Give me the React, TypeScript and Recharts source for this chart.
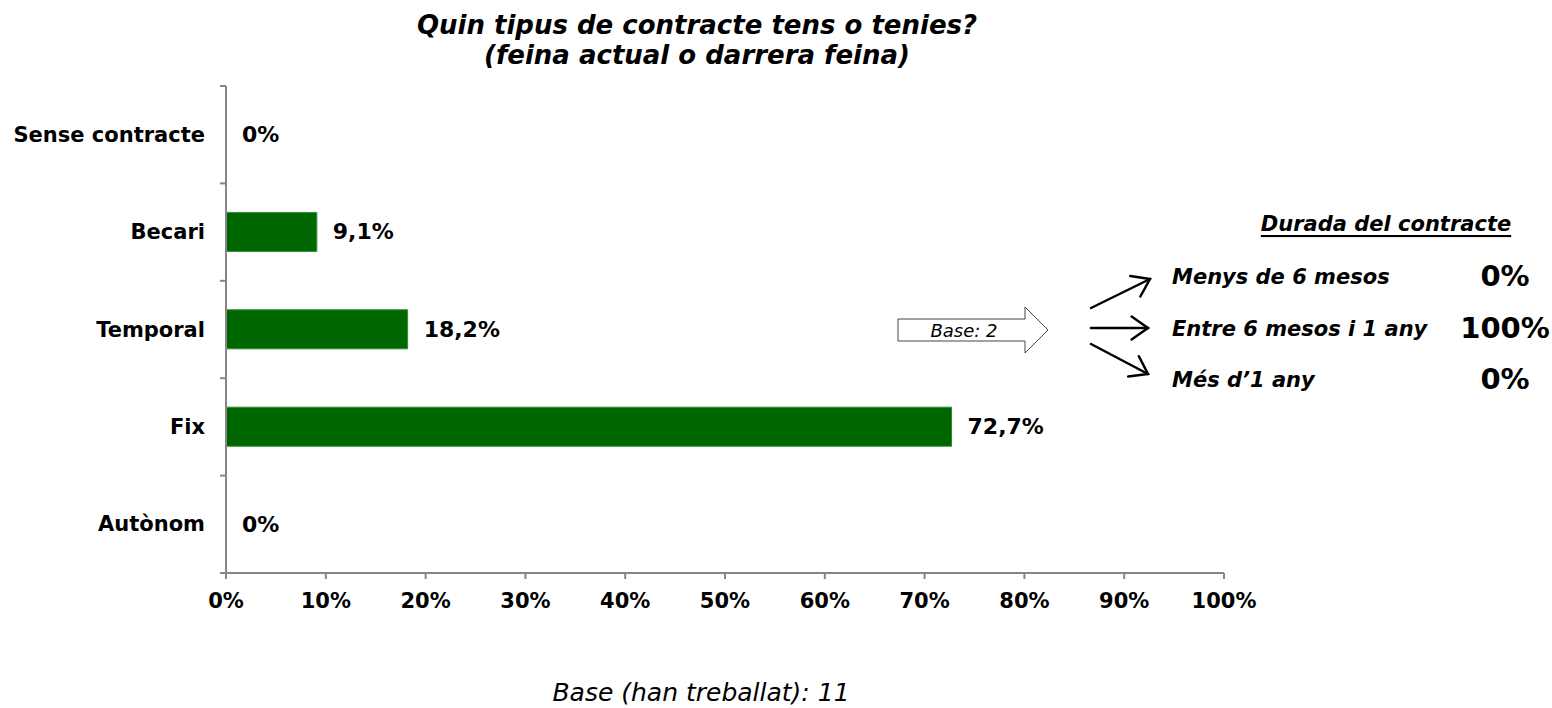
import React from "react";
import { BarChart, Bar, XAxis, YAxis, LabelList, Cell } from "recharts";

const categories = ["Sense contracte", "Becari", "Temporal", "Fix", "Autònom"];
const values = [0, 9.1, 18.2, 72.7, 0];
const xTicks = [0, 10, 20, 30, 40, 50, 60, 70, 80, 90, 100];

const durationLabels = ["Menys de 6 mesos", "Entre 6 mesos i 1 any", "Més d’1 any"];
const durationValues = ["0%", "100%", "0%"];

const data = categories.map((c, i) => ({ name: c, value: values[i] }));

const FONT = "'DejaVu Sans', Verdana, sans-serif";
const W = 1552;
const H = 708;
const TOP = 86;
const BOTTOM = 573;
const LEFT = 226;
const RIGHT = 1224;
const XAXIS_H = 60;
const BAND = (BOTTOM - TOP) / categories.length;
const AXIS = "#868686";

const fmt = (v: number) => (v === 0 ? "0%" : v.toFixed(1).replace(".", ",") + "%");

const YTick = (props: any) => {
  const { y, payload, index } = props;
  return (
    <g>
      <text
        x={LEFT - 21}
        y={y}
        textAnchor="end"
        dominantBaseline="central"
        fontFamily={FONT}
        fontWeight="bold"
        fontSize={21}
        fill="#000"
      >
        {payload.value}
      </text>
      <line x1={LEFT - 6} x2={LEFT} y1={y - BAND / 2} y2={y - BAND / 2} stroke={AXIS} strokeWidth={2} />
      {index === categories.length - 1 && (
        <line x1={LEFT - 6} x2={LEFT} y1={y + BAND / 2} y2={y + BAND / 2} stroke={AXIS} strokeWidth={2} />
      )}
    </g>
  );
};

const ValueLabel = (props: any) => {
  const { x, y, height, value } = props;
  const v = Number(value);
  const w = v === 0 ? 0 : Number(props.width || 0);
  return (
    <text
      x={Number(x) + w + 16}
      y={Number(y) + Number(height) / 2}
      dominantBaseline="central"
      fontFamily={FONT}
      fontWeight="bold"
      fontSize={22}
      fill="#000"
    >
      {fmt(v)}
    </text>
  );
};

const Arrow = ({ x1, y1, x2, y2 }: { x1: number; y1: number; x2: number; y2: number }) => {
  const a = Math.atan2(y2 - y1, x2 - x1);
  const L = 20;
  const s = (35 * Math.PI) / 180;
  const p1 = [x2 - L * Math.cos(a - s), y2 - L * Math.sin(a - s)];
  const p2 = [x2 - L * Math.cos(a + s), y2 - L * Math.sin(a + s)];
  return (
    <g stroke="#000" strokeWidth={2.5} fill="none" strokeLinecap="round">
      <line x1={x1} y1={y1} x2={x2} y2={y2} />
      <polyline points={`${p1[0]},${p1[1]} ${x2},${y2} ${p2[0]},${p2[1]}`} />
    </g>
  );
};

export default function App() {
  const rowY = [277, 329, 380];
  return (
    <div style={{ position: "absolute", left: 0, top: 0, width: W, height: H, background: "#fff" }}>
      <BarChart
        width={W}
        height={H}
        data={data}
        layout="vertical"
        margin={{ top: TOP, bottom: H - BOTTOM - XAXIS_H, left: 8, right: W - RIGHT }}
      >
        <XAxis
          type="number"
          domain={[0, 100]}
          ticks={xTicks}
          tickFormatter={(v: number) => v + "%"}
          stroke={AXIS}
          axisLine={{ stroke: AXIS, strokeWidth: 2 }}
          tickLine={{ stroke: AXIS, strokeWidth: 2 }}
          tickSize={6}
          tickMargin={14}
          tick={{ fill: "#000", fontFamily: FONT, fontWeight: "bold", fontSize: 21 }}
          interval={0}
          height={XAXIS_H}
        />
        <YAxis
          type="category"
          dataKey="name"
          width={218}
          axisLine={{ stroke: AXIS, strokeWidth: 2 }}
          tickLine={false}
          tick={<YTick />}
          interval={0}
        />
        <Bar
          dataKey="value"
          fill="#006600"
          stroke="#2f8a2f"
          strokeWidth={1}
          barSize={39}
          minPointSize={1}
          isAnimationActive={false}
        >
          {data.map((d, i) => (
            <Cell
              key={i}
              fill={d.value === 0 ? "transparent" : "#006600"}
              stroke={d.value === 0 ? "none" : "#2f8a2f"}
            />
          ))}
          <LabelList dataKey="value" content={<ValueLabel />} />
        </Bar>
      </BarChart>
      <svg width={W} height={H} style={{ position: "absolute", left: 0, top: 0, pointerEvents: "none" }}>
        <g fontFamily={FONT} fontWeight="bold" fontStyle="italic" fontSize={26} textAnchor="middle">
          <text x={697} y={25} dominantBaseline="central">Quin tipus de contracte tens o tenies?</text>
          <text x={697} y={55} dominantBaseline="central">(feina actual o darrera feina)</text>
        </g>
        <text
          x={1386}
          y={224}
          dominantBaseline="central"
          textAnchor="middle"
          fontFamily={FONT}
          fontWeight="bold"
          fontStyle="italic"
          fontSize={21}
          textDecoration="underline"
        >
          Durada del contracte
        </text>
        <path
          d="M898,319 L1025,319 L1025,307 L1048,330 L1025,353 L1025,341 L898,341 Z"
          fill="#fff"
          stroke="#444"
          strokeWidth={1}
        />
        <text x={964} y={330} dominantBaseline="central" textAnchor="middle" fontFamily={FONT} fontStyle="italic" fontSize={18}>
          Base: 2
        </text>
        <Arrow x1={1091} y1={308} x2={1150} y2={279} />
        <Arrow x1={1091} y1={328} x2={1148} y2={328} />
        <Arrow x1={1091} y1={344} x2={1148} y2={374} />
        {durationLabels.map((l, i) => (
          <text
            key={l}
            x={1172}
            y={rowY[i]}
            dominantBaseline="central"
            fontFamily={FONT}
            fontWeight="bold"
            fontStyle="italic"
            fontSize={21}
          >
            {l}
          </text>
        ))}
        {durationValues.map((v, i) => (
          <text
            key={i}
            x={1505}
            y={rowY[i] - 1}
            dominantBaseline="central"
            textAnchor="middle"
            fontFamily={FONT}
            fontWeight="bold"
            fontSize={29}
          >
            {v}
          </text>
        ))}
        <text x={701} y={692} dominantBaseline="central" textAnchor="middle" fontFamily={FONT} fontStyle="italic" fontSize={25}>
          Base (han treballat): 11
        </text>
      </svg>
    </div>
  );
}
